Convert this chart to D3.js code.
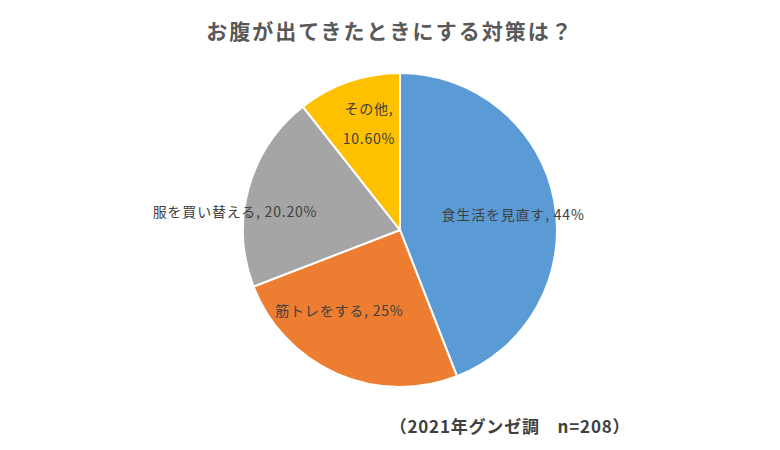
<!DOCTYPE html>
<html>
<head>
<meta charset="utf-8">
<script src="https://cdn.jsdelivr.net/npm/d3@7"></script>
<style>
  body { margin: 0; background: #fff; }
  svg { display: block; font-family: "Noto Sans CJK JP", "Noto Sans", sans-serif; }
</style>
</head>
<body>
<div id="chart"></div>
<script>
// お腹が出てきたときにする対策 (2021年グンゼ調)
const categories = ["食生活を見直す", "筋トレをする", "服を買い替える", "その他"];
const values = [44, 25, 20.2, 10.6];
const valueLabels = ["44%", "25%", "20.20%", "10.60%"];
const colors = ["#5B9BD5", "#ED7D31", "#A5A5A5", "#FFC000"];

const W = 780, H = 450;
const cx = 400, cy = 230, r = 157;

const svg = d3.select("#chart").append("svg")
  .attr("width", W).attr("height", H);

svg.append("text")
  .attr("x", 390).attr("y", 30)
  .attr("text-anchor", "middle")
  .attr("dominant-baseline", "central")
  .attr("font-size", 21).attr("font-weight", "bold")
  .attr("letter-spacing", 2)
  .attr("fill", "#595959")
  .text("お腹が出てきたときにする対策は？");

const data = categories.map((c, i) => ({ name: c, value: values[i], label: valueLabels[i], color: colors[i] }));

const pie = d3.pie().sort(null).value(d => d.value);
const arcs = pie(data);
const arc = d3.arc().innerRadius(0).outerRadius(r);
const labelArc = d3.arc().innerRadius(r * 0.72).outerRadius(r * 0.72);

const g = svg.append("g").attr("transform", `translate(${cx},${cy})`);

g.selectAll("path.slice")
  .data(arcs)
  .join("path")
  .attr("class", "slice")
  .attr("d", arc)
  .attr("fill", d => d.data.color)
  .attr("stroke", "#fff")
  .attr("stroke-width", 2);

// Excel-style best-fit nudges for a couple of labels
const nudge = { "筋トレをする": [-15, -23], "服を買い替える": [-56, 11], "その他": [6, 0], "食生活を見直す": [2, 5] };

arcs.forEach(d => {
  const [x0, y0] = labelArc.centroid(d);
  const [dx, dy] = nudge[d.data.name] || [0, 0];
  const t = g.append("text")
    .attr("text-anchor", "middle")
    .attr("font-size", 14)
    .attr("letter-spacing", 0.8)
    .attr("fill", "#404040")
    .attr("transform", `translate(${x0 + dx},${y0 + dy})`);
  if (d.data.name === "その他") {
    t.append("tspan").attr("x", 0).attr("y", -15).attr("dominant-baseline", "central").text(d.data.name + ",");
    t.append("tspan").attr("x", 0).attr("y", 15).attr("dominant-baseline", "central").text(d.data.label);
  } else {
    t.attr("dominant-baseline", "central").text(d.data.name + ",  " + d.data.label);
  }
});

svg.append("text")
  .attr("x", 510).attr("y", 425)
  .attr("text-anchor", "middle")
  .attr("dominant-baseline", "central")
  .attr("font-size", 17).attr("font-weight", "bold")
  .attr("letter-spacing", 0.8)
  .attr("fill", "#404040")
  .text("（2021年グンゼ調　n=208）");
</script>
</body>
</html>
